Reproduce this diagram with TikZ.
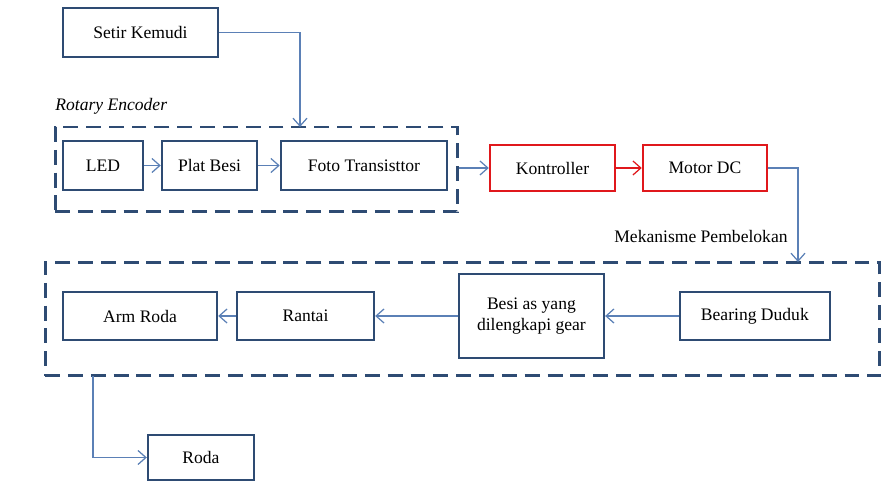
\documentclass[tikz,border=0pt]{standalone}
\usepackage{fontspec}
\setmainfont{Liberation Serif}
\usetikzlibrary{arrows.meta,positioning}
\definecolor{boxblue}{HTML}{2E4B73}
\definecolor{lineblue}{HTML}{5B80B6}
\definecolor{boxred}{HTML}{E0181C}

\begin{document}
\begin{tikzpicture}[x=0.02cm,y=-0.02cm,>={Straight Barb[length=4.5pt,width=8pt]},
  node distance=2cm,
  block/.style={rectangle,draw=boxblue,line width=1.4pt,fill=white,
    font=\fontsize{10}{12}\selectfont,minimum height=0.97cm,inner sep=2pt},
  redblock/.style={block,draw=boxred},
  group/.style={rectangle,draw=boxblue,line width=1.7pt,
    dash pattern=on 8.5pt off 4.5pt,inner sep=0pt},
  label/.style={font=\fontsize{10}{12}\selectfont,inner sep=0pt},
  flow/.style={->,draw=lineblue,line width=0.7pt}]

  \useasboundingbox (0,0) rectangle (882,482);

  % dashed groups first, boxes are drawn on top
  \node[group,minimum width=8.06cm,minimum height=1.7cm] (RE) at (256.5,169.5) {};
  \node[group,minimum width=16.7cm,minimum height=2.28cm] (MP) at (462.5,319) {};
  \node[label,font=\itshape\fontsize{10}{12}\selectfont,anchor=base west] (RElabel) at (55,111) {Rotary Encoder};
  \node[label,anchor=west] (MPlabel) at (614,236) {Mekanisme Pembelokan};

  \node[block,minimum width=3.1cm] (SK) at (140.5,32.5) {Setir Kemudi};
  \node[block,minimum width=1.6cm] (LED) at (103,165.5) {LED};
  \node[block,minimum width=1.9cm] (PB) [node distance=2.13cm,right of=LED] {Plat Besi};
  \node[block,minimum width=3.32cm] (FT) [node distance=3.09cm,right of=PB] {Foto Transisttor};
  \node[redblock,minimum width=2.5cm,minimum height=0.93cm] (K) at (552.5,168) {Kontroller};
  \node[redblock,minimum width=2.48cm,minimum height=0.93cm] (MD) [node distance=3.05cm,right of=K] {Motor DC};

  \node[block,minimum width=3.08cm] (AR) at (140,316) {Arm Roda};
  \node[block,minimum width=2.74cm] (R) [node distance=3.31cm,right of=AR] {Rantai};
  \node[block,minimum width=2.9cm,minimum height=1.68cm,align=center] (BG) [node distance=4.52cm,right of=R] {Besi as yang\\dilengkapi gear};
  \node[block,minimum width=3cm] (BD) [node distance=4.47cm,right of=BG] {Bearing Duduk};
  \node[block,minimum width=2.12cm,minimum height=0.9cm] (Roda) at (201,457.5) {Roda};

  \coordinate (REin) at (300,127);
  \coordinate (REout) at (RE.east |- K.west);
  \coordinate (MPin) at (798,262);
  \coordinate (MPout) at (93,376);

  \path[flow]
  (LED) edge (PB)
  (PB) edge (FT)
  (BD) edge (BG)
  (BG) edge (R)
  (R) edge (AR)
  ;
  \draw[flow] (REout) -- (K.west);
  \draw[flow] (SK.east) -| (REin);
  \draw[flow] (MD.east) -| (MPin);
  \draw[flow] (MPout) |- (Roda.west);
  \draw[flow,draw=boxred] (K) -- (MD);
\end{tikzpicture}
\end{document}
